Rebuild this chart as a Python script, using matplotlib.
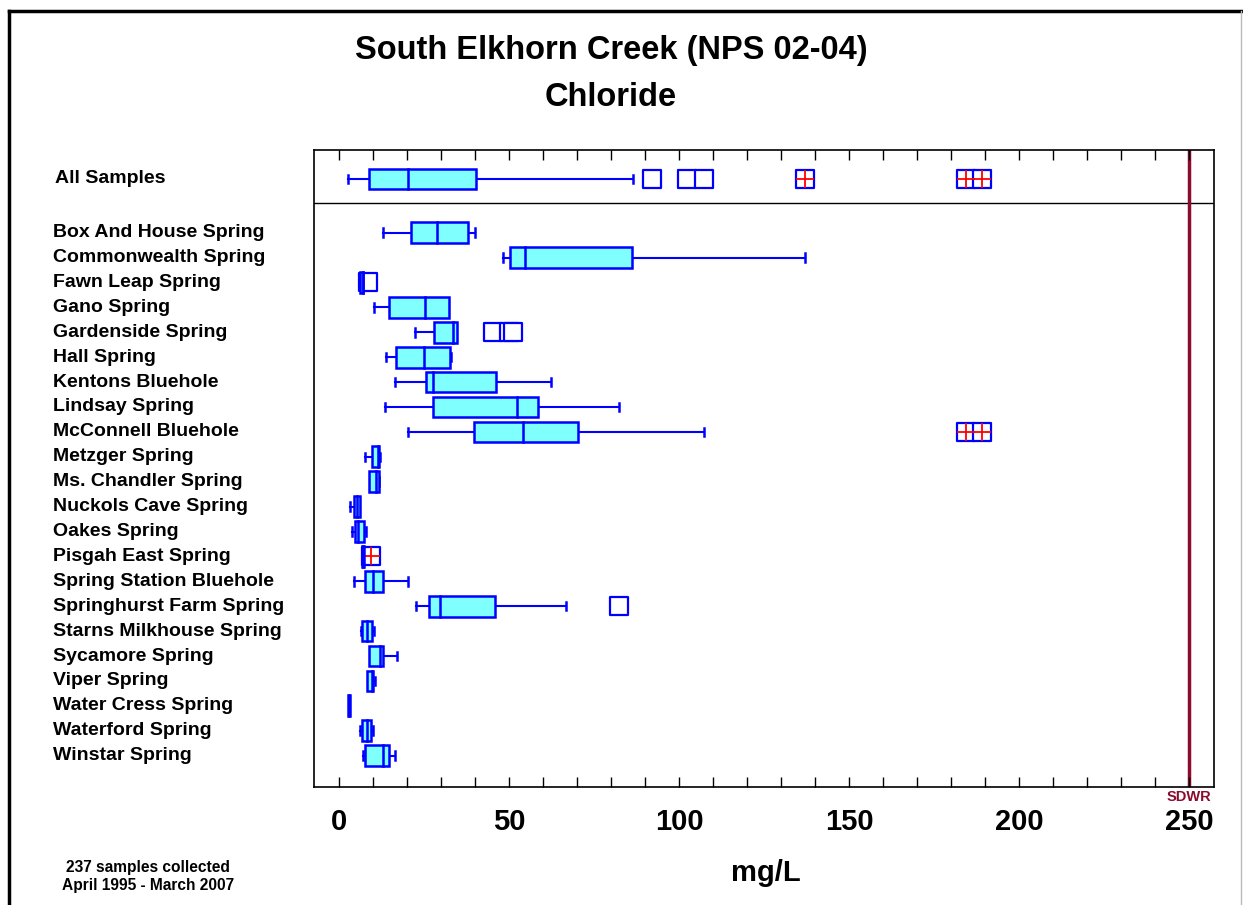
import matplotlib
matplotlib.use("Agg")
import matplotlib.pyplot as plt
from matplotlib.patches import Rectangle
from matplotlib.lines import Line2D

W, H = 1243, 905

title_lines = ["South Elkhorn Creek (NPS 02-04)", "Chloride"]
sites = ["Box And House Spring", "Commonwealth Spring", "Fawn Leap Spring", "Gano Spring",
         "Gardenside Spring", "Hall Spring", "Kentons Bluehole", "Lindsay Spring",
         "McConnell Bluehole", "Metzger Spring", "Ms. Chandler Spring", "Nuckols Cave Spring",
         "Oakes Spring", "Pisgah East Spring", "Spring Station Bluehole", "Springhurst Farm Spring",
         "Starns Milkhouse Spring", "Sycamore Spring", "Viper Spring", "Water Cress Spring",
         "Waterford Spring", "Winstar Spring"]
# box statistics per site (mg/L); None = no whisker drawn
whisker_lo = [12.8, 48.2, None, 10.3, 22.4, 13.8, 16.3, 13.3, 20.2, 7.5, None, 3.1,
              3.7, None, 4.2, 22.6, 6.3, None, None, None, 6.1, 7.1]
q1 = [21.2, 50.3, 6.0, 14.5, 27.9, 16.6, 25.5, 27.6, 39.7, 9.5, 8.8, 4.2,
      4.6, 6.8, 7.6, 26.5, 6.7, 8.8, 8.1, 2.6, 6.7, 7.6]
median = [28.8, 54.7, 6.9, 25.1, 33.3, 24.8, 27.6, 52.2, 54.1, 11.3, 10.9, 5.1,
          5.6, 7.1, 10.0, 29.7, 8.1, 12.0, 9.6, 2.9, 8.1, 12.8]
q3 = [37.9, 86.2, 6.9, 32.3, 34.7, 32.6, 46.1, 58.5, 70.3, 11.8, 11.6, 6.1,
      7.4, 7.3, 12.8, 45.8, 9.6, 12.8, 9.8, 3.2, 9.2, 14.5]
whisker_hi = [40.0, 137.0, None, None, None, 32.8, 62.4, 82.4, 107.3, 12.1, 11.7, None,
              7.8, None, 20.1, 66.7, 10.2, 17.1, 10.5, None, 10.0, 16.4]
# outliers: (site index, value)
outlier_site = [2, 4, 4, 4, 15]
outlier_val = [8.5, 45.1, 49.8, 51.0, 82.4]
far_site = [13, 8, 8]
far_val = [9.4, 184.2, 189.1]

all_label = "All Samples"
all_stats = dict(wlo=2.5, q1=8.8, med=20.1, q3=40.1, whi=86.3)
all_outliers = [91.9, 102.2, 107.3]
all_far = [137.0, 184.2, 189.1]

xticks = [0, 50, 100, 150, 200, 250]
xlabel = "mg/L"
sdwr_value = 250
sdwr_label = "SDWR"
footer = ["237 samples collected", "April 1995 - March 2007"]

SANS = ["Liberation Sans", "DejaVu Sans"]

BOX_FILL = "#80ffff"
BLUE = "#0000ff"
RED = "#ff0000"
MAROON = "#8b0a2e"

fig = plt.figure(figsize=(W / 100, H / 100), dpi=100)
ax = fig.add_axes([314 / W, 1 - 787 / H, 900 / W, 637 / H])
ax.set_xlim(-7.44, 257.26)
ax.set_ylim(22.26, -3.32)

ALL_Y = -2.16
BOX_H = 0.83
CAP_H = 0.34


def draw_box(y, wlo, b1, med, b3, whi):
    ax.add_patch(Rectangle((b1, y - BOX_H / 2), b3 - b1, BOX_H, facecolor=BOX_FILL,
                           edgecolor=BLUE, lw=1.8, zorder=3))
    ax.plot([med, med], [y - BOX_H / 2, y + BOX_H / 2], color=BLUE, lw=1.8, zorder=4)
    if wlo is not None:
        ax.plot([wlo, b1], [y, y], color=BLUE, lw=1.5, zorder=2)
        ax.plot([wlo, wlo], [y - CAP_H / 2, y + CAP_H / 2], color=BLUE, lw=1.8, zorder=2)
    if whi is not None:
        ax.plot([b3, whi], [y, y], color=BLUE, lw=1.5, zorder=2)
        ax.plot([whi, whi], [y - CAP_H / 2, y + CAP_H / 2], color=BLUE, lw=1.8, zorder=2)


def draw_outliers(vals, ys, far=False):
    ax.scatter(vals, ys, marker="s", s=150, facecolor="white", edgecolor=BLUE,
               linewidths=1.6, zorder=2.6)
    if far:
        ax.scatter(vals, ys, marker="+", s=150, color=RED, linewidths=1.3, zorder=2.7)


# All samples
draw_box(ALL_Y, all_stats["wlo"], all_stats["q1"], all_stats["med"], all_stats["q3"], all_stats["whi"])
draw_outliers(all_outliers, [ALL_Y] * len(all_outliers))
draw_outliers(all_far, [ALL_Y] * len(all_far), far=True)

for i in range(len(sites)):
    draw_box(i, whisker_lo[i], q1[i], median[i], q3[i], whisker_hi[i])

draw_outliers(outlier_val, outlier_site)
draw_outliers(far_val, far_site, far=True)

# divider between All Samples panel and sites
ax.axhline(-1.19, color="black", lw=1.0, zorder=1)
# SDWR line
ax.axvline(sdwr_value, color=MAROON, lw=2.5, zorder=1)
ax.text(sdwr_value, -0.004, sdwr_label, transform=ax.get_xaxis_transform(), ha="center",
        va="top", fontsize=10.5, fontweight="bold", color=MAROON, family=SANS)

# labels
ax.text(-0.288, ALL_Y, all_label, transform=ax.get_yaxis_transform(), ha="left",
        va="center", fontsize=14, fontweight="bold", family=SANS)
for i, s in enumerate(sites):
    ax.text(-0.29, i, s, transform=ax.get_yaxis_transform(), ha="left", va="center",
            fontsize=14, fontweight="bold", family=SANS)

ax.set_yticks([])
ax.set_xticks(xticks)
ax.set_xticklabels([str(t) for t in xticks], fontsize=21, fontweight="bold", family=SANS)
ax.set_xticks(range(0, 251, 10), minor=True)
ax.tick_params(axis="x", which="both", direction="in", top=True, bottom=True,
               length=7, width=1.0, pad=15)
for sp in ax.spines.values():
    sp.set_linewidth(1.2)

fig.text(766 / W, 1 - 873 / H, xlabel, ha="center", va="center", fontsize=21,
         fontweight="bold", family=SANS)
fig.text(611 / W, 1 - 50 / H, title_lines[0], ha="center", va="center", fontsize=23.5,
         fontweight="bold", family=SANS)
fig.text(611 / W, 1 - 97 / H, title_lines[1], ha="center", va="center", fontsize=23.5,
         fontweight="bold", family=SANS)
fig.text(148 / W, 1 - 867 / H, footer[0], ha="center", va="center", fontsize=11.2,
         fontweight="bold", family=SANS)
fig.text(148 / W, 1 - 885 / H, footer[1], ha="center", va="center", fontsize=11.2,
         fontweight="bold", family=SANS)

# outer frame
fig.add_artist(Line2D([9 / W, 1241 / W], [1 - 11 / H, 1 - 11 / H], color="black", lw=2.5))
fig.add_artist(Line2D([9 / W, 9 / W], [1 - 11 / H, 0], color="black", lw=2.5))
fig.add_artist(Line2D([1241 / W, 1241 / W], [1 - 11 / H, 0], color="#bbbbbb", lw=1.0))

fig.savefig("out.png", dpi=100)
